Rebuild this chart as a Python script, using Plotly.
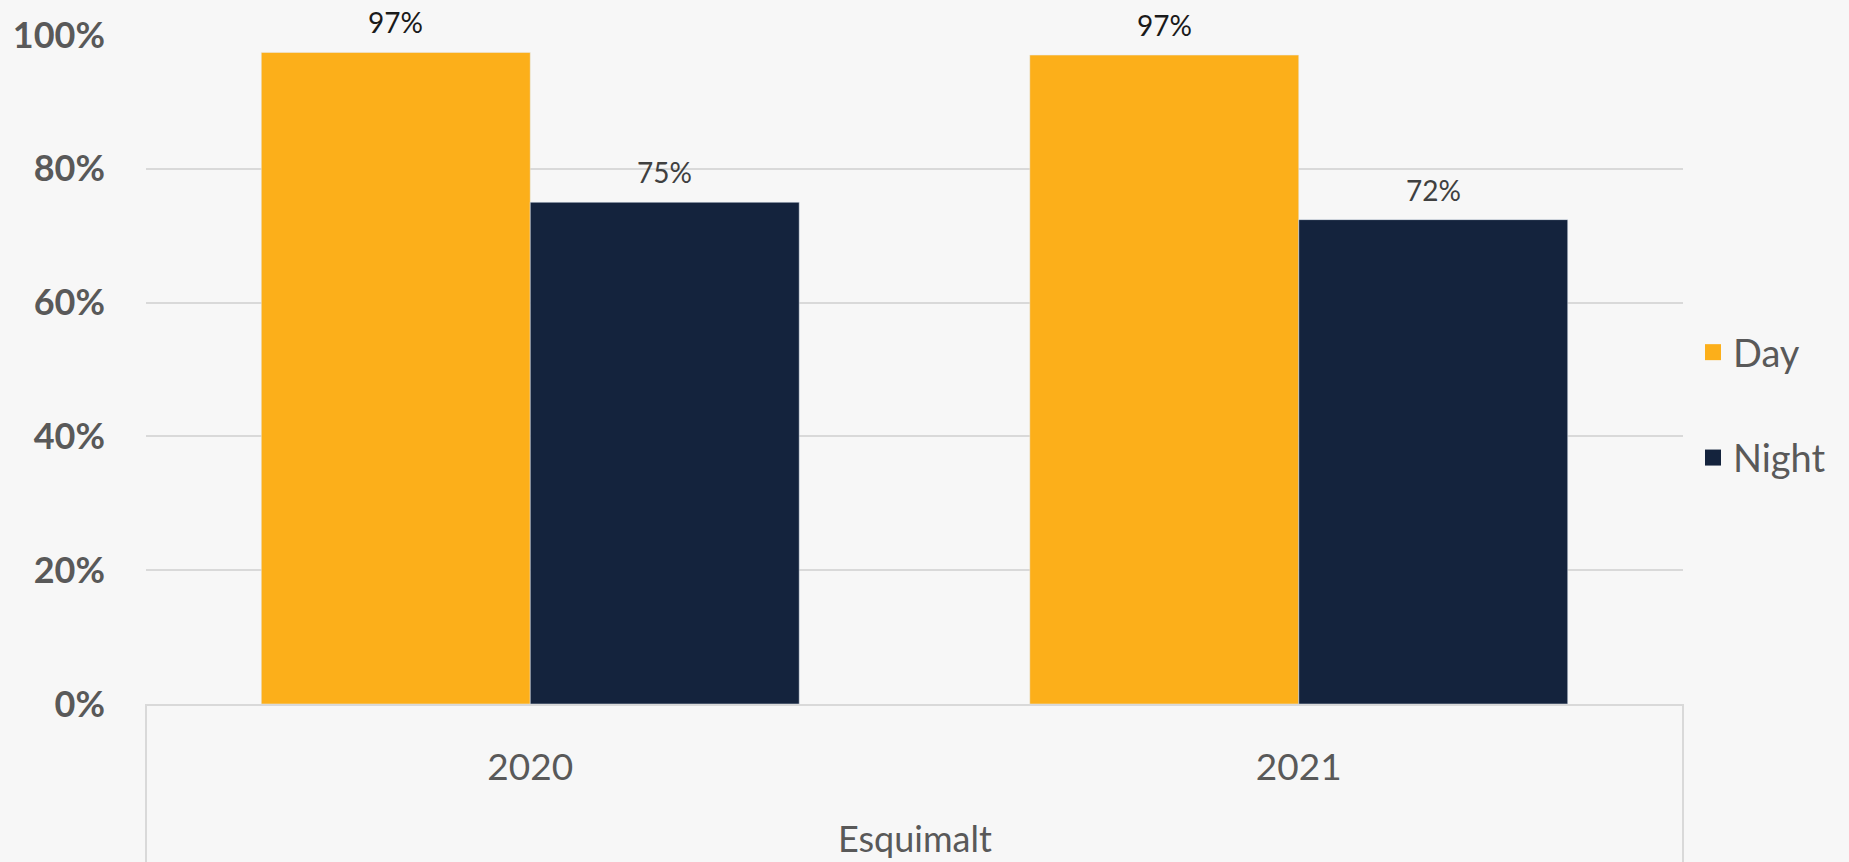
import plotly.graph_objects as go

BG = "#F7F7F7"
GRID = "#D9D9D9"
GREY = "#595959"
DAY_COLOR = "#FCAF1A"
NIGHT_COLOR = "#14233D"
FONT = "Lato, 'Open Sans', sans-serif"

years = ["2020", "2021"]
day_share = [0.974, 0.970]
night_share = [0.750, 0.724]
group_label = "Esquimalt"
y_ticks = [0, 0.2, 0.4, 0.6, 0.8, 1.0]

fig = go.Figure()
fig.add_trace(go.Bar(x=years, y=day_share, name="Day", marker_color=DAY_COLOR,
                     showlegend=False))
fig.add_trace(go.Bar(x=years, y=night_share, name="Night", marker_color=NIGHT_COLOR,
                     showlegend=False))

# legend entries with larger square swatches
for name, color, grp in [("Day", DAY_COLOR, "d"), ("Night", NIGHT_COLOR, "n")]:
    fig.add_trace(go.Scatter(x=[years[0]], y=[None], mode="markers", name=name,
                             legendgroup=grp,
                             marker=dict(symbol="square", size=22, color=color)))

# data labels above each bar (x given as category index, numeric-looking names
# would otherwise be read as positions)
half_bar = 134.5
for vals, shift, color in [(day_share, -half_bar, "#1A1A1A"),
                           (night_share, half_bar, "#404040")]:
    for i, v in enumerate(vals):
        fig.add_annotation(x=i, y=v, text=f"{v:.0%}", showarrow=False,
                           xshift=shift, yshift=30, yanchor="middle",
                           font=dict(size=28, color=color, family=FONT))

fig.add_annotation(x=0.5, y=-0.2, xref="paper", yref="paper", text=group_label,
                   showarrow=False, yanchor="middle",
                   font=dict(size=36, color=GREY, family=FONT))

for xp in (0, 1):
    fig.add_shape(type="line", xref="paper", yref="paper", x0=xp, x1=xp,
                  y0=0, y1=-0.24, line=dict(color=GRID, width=2))

fig.update_layout(
    width=1849,
    height=862,
    margin=dict(l=146, r=166, t=33, b=158),
    paper_bgcolor=BG,
    plot_bgcolor=BG,
    barmode="group",
    bargap=0.30,
    bargroupgap=0,
    font=dict(family=FONT, color=GREY),
    legend=dict(x=1.0065, xanchor="left", y=0.447, yanchor="middle",
                font=dict(size=38, color=GREY, family=FONT),
                tracegroupgap=53, bgcolor="rgba(0,0,0,0)"),
)
fig.update_yaxes(range=[0, 1], tickvals=y_ticks, tickformat=".0%",
                 showgrid=True, gridcolor=GRID, gridwidth=2, zeroline=False,
                 ticklabelstandoff=40,
                 tickfont=dict(size=36, color=GREY, family=FONT, weight="bold"))
fig.update_xaxes(type="category", range=[-0.5, len(years) - 0.5],
                 showline=True, linecolor=GRID, linewidth=2,
                 showgrid=False, ticklabelstandoff=30,
                 tickfont=dict(size=37, color=GREY, family=FONT))

fig.write_html("out.html", config={"displayModeBar": False},
               post_script="document.body.style.margin='0';")
